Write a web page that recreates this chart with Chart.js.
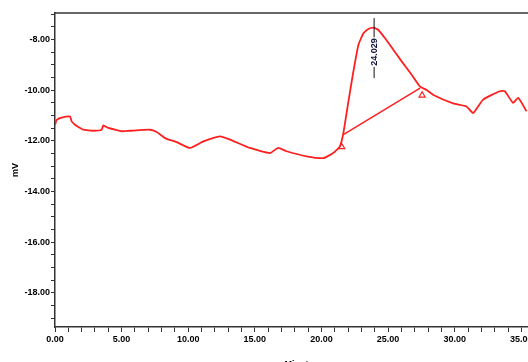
<!DOCTYPE html>
<html>
<head>
<meta charset="utf-8">
<script src="https://cdn.jsdelivr.net/npm/chart.js@4"></script>
<style>
html,body{margin:0;padding:0;background:#fff;overflow:hidden;}
#wrap{width:528px;height:362px;overflow:hidden;position:relative;}
canvas{display:block;}
</style>
</head>
<body>
<div id="wrap"><canvas id="c" width="560" height="372"></canvas></div>
<script>
// Chromatogram signal (minutes, mV)
const times = [0, 0.13, 0.5, 1.13, 1.25, 1.5, 1.88, 2.12, 2.87, 3.5, 3.62, 4.0, 4.5, 5.0, 5.63, 7.13, 7.63, 8.25, 9.13, 10.13, 11.13, 12.38, 13.13, 14.63, 16.13, 16.75, 17.38, 18.88, 20.13, 20.88, 21.38, 21.64, 22.02, 22.39, 22.77, 23.15, 23.52, 23.90, 24.27, 24.77, 25.40, 26.03, 26.78, 27.40, 27.90, 28.40, 29.88, 30.88, 31.38, 32.13, 33.38, 33.76, 34.38, 34.76, 35.39];
const signal = [-11.36, -11.17, -11.08, -11.04, -11.23, -11.36, -11.49, -11.56, -11.60, -11.56, -11.39, -11.49, -11.56, -11.62, -11.60, -11.56, -11.65, -11.89, -12.05, -12.28, -12.02, -11.82, -11.95, -12.28, -12.48, -12.28, -12.41, -12.61, -12.68, -12.48, -12.22, -11.70, -10.45, -9.27, -8.21, -7.75, -7.58, -7.53, -7.62, -7.95, -8.41, -8.87, -9.40, -9.86, -9.99, -10.19, -10.52, -10.64, -10.90, -10.37, -10.04, -10.04, -10.50, -10.30, -10.83];
// Integration baseline
const baseTimes = [21.64, 27.40];
const baseValues = [-11.75, -9.92];
// Peak start / end markers
const markerTimes = [21.52, 27.55];
const markerValues = [-12.24, -10.20];
// Peak label
const peakTime = 23.95;
const peakLabel = "24.029";
const peakLineTop = -7.15;
const peakLineBottom = -9.52;
// Axis ticks
const xMajorStep = 5;
const yMajorStep = 2;

const RED = '#ff1f1f';
const AX = '#333333';
const FONT = 'Liberation Sans, Arial, sans-serif';

const toXY = (xs, ys) => xs.map((x, i) => ({x: x, y: ys[i]}));

const decorPlugin = {
  id: 'decor',
  afterDatasetsDraw(chart) {
    const {ctx, chartArea, scales} = chart;
    ctx.save();
    // top frame line
    ctx.strokeStyle = AX;
    ctx.lineWidth = 1.5;
    ctx.beginPath();
    ctx.moveTo(chartArea.left, chartArea.top);
    ctx.lineTo(chartArea.right, chartArea.top);
    ctx.stroke();
    // peak marker line + label
    const px = scales.x.getPixelForValue(peakTime);
    const y1 = scales.y.getPixelForValue(peakLineTop);
    const y2 = scales.y.getPixelForValue(peakLineBottom);
    ctx.strokeStyle = '#111';
    ctx.lineWidth = 1;
    ctx.beginPath();
    ctx.moveTo(px, y1);
    ctx.lineTo(px, y2);
    ctx.stroke();
    ctx.translate(px, (y1 + y2) / 2 + 4);
    ctx.rotate(-Math.PI / 2);
    ctx.font = 'bold 9px ' + FONT;
    ctx.textAlign = 'center';
    ctx.textBaseline = 'middle';
    ctx.fillStyle = '#fff';
    const w = ctx.measureText(peakLabel).width;
    ctx.fillRect(-w / 2 - 1, -4, w + 2, 8);
    ctx.fillStyle = '#14143a';
    ctx.fillText(peakLabel, 0, 0);
    ctx.restore();
  }
};

new Chart(document.getElementById('c'), {
  type: 'line',
  data: {
    datasets: [
      {
        data: toXY(times, signal),
        borderColor: RED, borderWidth: 1.8, pointRadius: 0, tension: 0.15, fill: false
      },
      {
        data: toXY(baseTimes, baseValues),
        borderColor: RED, borderWidth: 1.5, pointRadius: 0, tension: 0, fill: false
      },
      {
        data: toXY(markerTimes, markerValues),
        showLine: false, pointStyle: 'triangle', pointRadius: 3.5,
        pointBorderColor: RED, pointBackgroundColor: '#fff', pointBorderWidth: 1.2
      }
    ]
  },
  options: {
    responsive: false,
    animation: false,
    devicePixelRatio: 1,
    layout: {padding: {top: 13, right: 12, left: 0, bottom: 0}},
    plugins: {legend: {display: false}, tooltip: {enabled: false}},
    scales: {
      x: {
        type: 'linear', min: 0, max: 37.0,
        afterFit(s) { s.height = 45; },
        border: {display: true, color: AX, width: 1.5},
        grid: {drawOnChartArea: false, drawTicks: true, tickLength: 5, color: AX, lineWidth: 1},
        ticks: {
          stepSize: 1, includeBounds: false, autoSkip: false, maxRotation: 0, padding: 2,
          color: '#000', font: {family: FONT, size: 9, weight: 'bold'},
          callback: v => (Math.abs(v % xMajorStep) < 1e-9 ? v.toFixed(2) : '')
        },
        title: {display: true, text: 'Minutes', color: '#000',
          font: {family: FONT, size: 9, weight: 'bold'}, padding: {top: 0, bottom: 2}}
      },
      y: {
        type: 'linear', min: -19.35, max: -6.95,
        afterFit(s) { s.width = 55; },
        border: {display: true, color: AX, width: 1.5},
        grid: {drawOnChartArea: false, drawTicks: true, tickLength: 4, color: AX, lineWidth: 1},
        ticks: {
          stepSize: 0.5, includeBounds: false, autoSkip: false, padding: 1,
          color: '#000', font: {family: FONT, size: 9, weight: 'bold'},
          callback: v => (Math.abs(Math.round(v / yMajorStep) * yMajorStep - v) < 1e-9 ? v.toFixed(2) : '')
        },
        title: {display: true, text: 'mV', color: '#000',
          font: {family: FONT, size: 9, weight: 'bold'}, padding: {top: 10, bottom: 0}}
      }
    }
  },
  plugins: [decorPlugin]
});
</script>
</body>
</html>
